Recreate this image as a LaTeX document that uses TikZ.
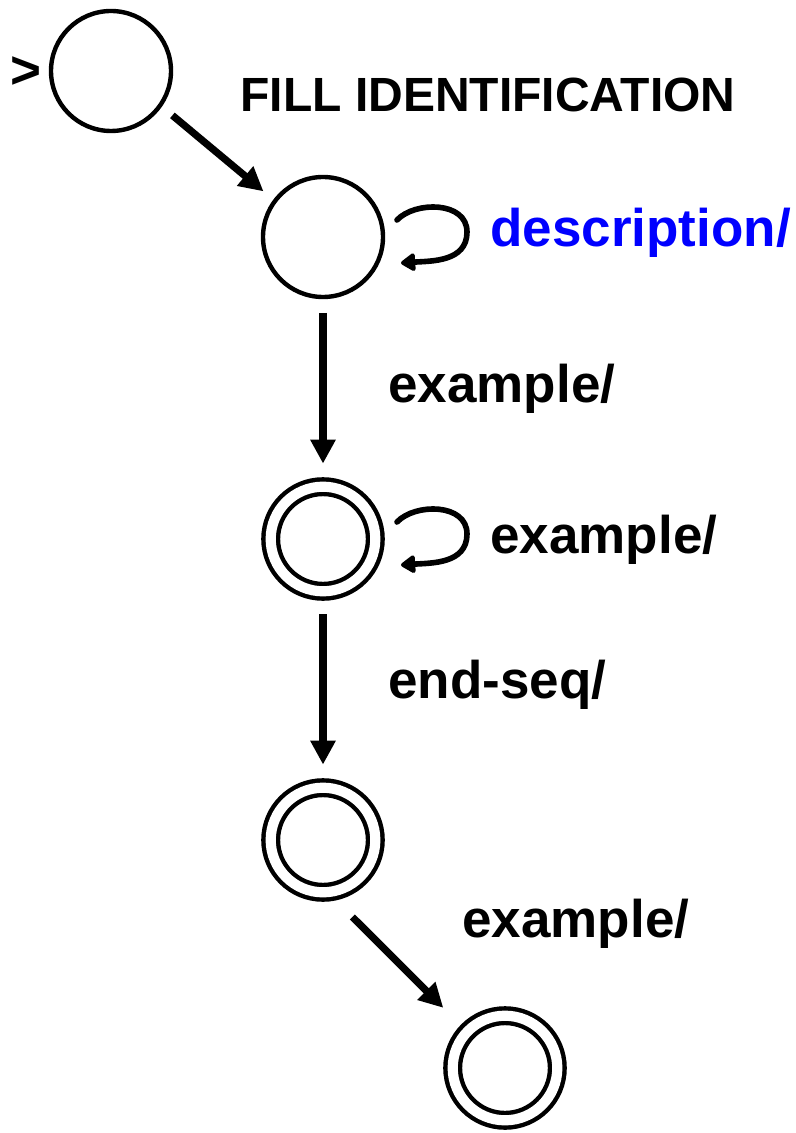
\documentclass[tikz,border=0pt]{standalone}
\usepackage{fontspec}
\setmainfont{Liberation Sans}
\usepackage{tikz}
\usetikzlibrary{arrows.meta}

\tikzset{
  state/.style={circle, draw, line width=2.2pt, inner sep=0pt, minimum size=60pt, outer sep=1.1pt},
  accept/.style={state, double, double distance=5.1pt, minimum size=52.3pt, outer sep=4.75pt},
  trans/.style={line width=3.6pt, -{Triangle[length=12pt,width=12pt]}, shorten <=6.8pt, shorten >=6.8pt},
  selfloop/.style={line width=2.8pt, line cap=round, line join=round, -{Triangle[length=8pt,width=10pt,round]}},
  lbl/.style={font=\fontsize{26.5}{32}\selectfont\bfseries, inner sep=0pt, anchor=base west},
}

\begin{document}
\begin{tikzpicture}[x=0.5pt, y=-0.5pt]
                  \useasboundingbox (0,0) rectangle (796,1133);

                  % Define states
                  \node[state] (s0) at (111,71) {};
                  \node[state] (s1) at (323,237) {};
                  \node[accept] (s2) at (323,539) {};
                  \node[accept] (s3) at (323,840) {};
                  \node[accept] (s4) at (505,1068) {};

                  % Draw transitions
                  \draw[trans, shorten <=6.8pt, shorten >=6.4pt] (s0.-35.5) -- (s1.143.8);
                  \draw[trans] (s1) -- (s2);
                  \draw[trans] (s2) -- (s3);
                  \draw[trans, shorten <=11.7pt, shorten >=12.2pt] (s3.-78) -- (s4.136);

                  % Draw loops
                  \draw[selfloop, shift={(s1.center)}] (74,-17) .. controls (92,-36) and (144,-36) .. (144,-5) .. controls (144,25) and (108,24) .. (78,26);
                  \draw[selfloop, shift={(s2.center)}] (74,-17) .. controls (92,-36) and (144,-36) .. (144,-5) .. controls (144,25) and (108,24) .. (78,26);

                  % Labels
                  \node[lbl, anchor=center] (start) at (25.5,73) {>};
                  \node[lbl, font=\fontsize{24}{29}\selectfont\bfseries] (title) at (240,112) {FILL IDENTIFICATION};
                  \node[lbl, text=blue] (desc) at (490,247) {description/};
                  \node[lbl] (ex1) at (388,402) {example/};
                  \node[lbl] (ex2) at (490,553) {example/};
                  \node[lbl] (endseq) at (388,698) {end-seq/};
                  \node[lbl] (ex3) at (462,937) {example/};

              \end{tikzpicture}
\end{document}
